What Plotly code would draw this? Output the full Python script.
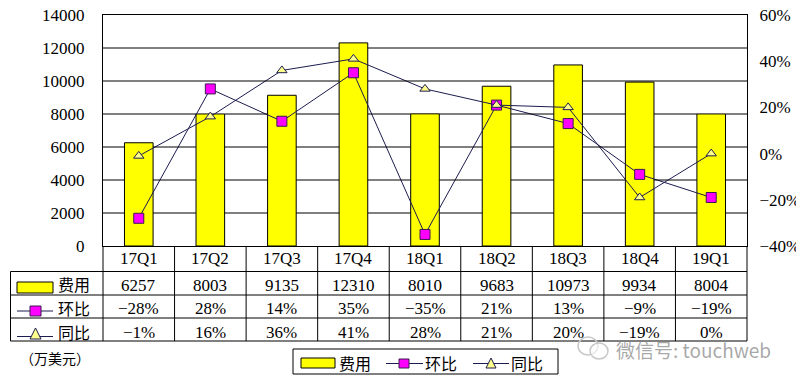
import plotly.graph_objects as go

# ---- data ----
categories = ["17Q1", "17Q2", "17Q3", "17Q4", "18Q1", "18Q2", "18Q3", "18Q4", "19Q1"]
expense = [6257, 8003, 9135, 12310, 8010, 9683, 10973, 9934, 8004]          # 费用 (万美元)
qoq_pct = [-28, 28, 14, 35, -35, 21, 13, -9, -19]                           # 环比 %
yoy_pct = [-1, 16, 36, 41, 28, 21, 20, -19, 0]                              # 同比 %
left_ticks = [0, 2000, 4000, 6000, 8000, 10000, 12000, 14000]
right_ticks = [-40, -20, 0, 20, 40, 60]
series_names = ["费用", "环比", "同比"]
unit_label = "（万美元）"
watermark = "微信号: touchweb"

# ---- layout geometry (page pixels; the page body has an 8px margin) ----
PW, PH = 804, 381
OFF = 8
L, R, T, B = 103, 747, 15, 246
BAR_W = 0.4


def xp(X):
    return (X - L) / (R - L)


def yp(Y):
    return (B - Y) / (B - T)


LINE_C = "#1c1c50"
YEL = "#FFFF00"
MAG = "#FF00FF"
TRI = "#FFFF8C"
NUM_FONT = "Liberation Serif"
CJK_FONT = "Noto Sans CJK SC"


def fmt_pct(v):
    return ("\u2212" + str(abs(v)) if v < 0 else str(v)) + "%"


fig = go.Figure()
fig.add_trace(go.Bar(x=categories, y=expense, width=BAR_W, name=series_names[0],
                     marker=dict(color=YEL, line=dict(color="black", width=1))))
fig.add_trace(go.Scatter(x=categories, y=qoq_pct, yaxis="y2", name=series_names[1],
                         mode="lines+markers", line=dict(color=LINE_C, width=1),
                         marker=dict(symbol="square", size=10, color=MAG,
                                     line=dict(color="#3a1a50", width=1))))
fig.add_trace(go.Scatter(x=categories, y=yoy_pct, yaxis="y2", name=series_names[2],
                         mode="lines+markers", line=dict(color=LINE_C, width=1),
                         marker=dict(symbol="triangle-up", size=9, color=TRI,
                                     line=dict(color=LINE_C, width=1))))

shapes = []
ann = []

# horizontal gridlines at left-axis ticks, interrupted where a bar stands in front
n = len(categories)
half = BAR_W / 2
for v in left_ticks[1:-1]:
    start = -0.5
    for i, h in enumerate(expense):
        if h > v:
            shapes.append(dict(type="line", xref="x", yref="y", x0=start, x1=i - half,
                               y0=v, y1=v, line=dict(color="black", width=1)))
            start = i + half
    shapes.append(dict(type="line", xref="x", yref="y", x0=start, x1=n - 0.5,
                       y0=v, y1=v, line=dict(color="black", width=1)))

# table grid
for Y in [271.5, 295, 318, 341]:
    shapes.append(dict(type="line", xref="paper", yref="paper", x0=xp(10.5), x1=1,
                       y0=yp(Y), y1=yp(Y), line=dict(color="black", width=1)))
shapes.append(dict(type="line", xref="paper", yref="paper", x0=xp(10.5), x1=xp(10.5),
                   y0=yp(271.5), y1=yp(341), line=dict(color="black", width=1)))
for k in range(n + 1):
    shapes.append(dict(type="line", xref="paper", yref="paper", x0=k / n, x1=k / n,
                       y0=0, y1=yp(341), line=dict(color="black", width=1)))

# table values
row_y = [yp(285), yp(308.5), yp(332)]
rows = [[str(v) for v in expense], [fmt_pct(v) for v in qoq_pct], [fmt_pct(v) for v in yoy_pct]]
for ri, row in enumerate(rows):
    for c, txt in zip(categories, row):
        ann.append(dict(x=c, xref="x", y=row_y[ri], yref="paper", text=txt, showarrow=False,
                        xanchor="center", yanchor="middle",
                        font=dict(family=NUM_FONT, size=17, color="black")))
# category labels row
for c in categories:
    ann.append(dict(x=c, xref="x", y=yp(258.5), yref="paper", text=c, showarrow=False,
                    xanchor="center", yanchor="middle",
                    font=dict(family=NUM_FONT, size=17, color="black")))


def rect(x0, y0, x1, y1, fill, lc="black"):
    shapes.append(dict(type="rect", xref="paper", yref="paper", x0=xp(x0), x1=xp(x1),
                       y0=yp(y0), y1=yp(y1), fillcolor=fill, line=dict(color=lc, width=1)))


def hline(x0, x1, y, c=LINE_C):
    shapes.append(dict(type="line", xref="paper", yref="paper", x0=xp(x0), x1=xp(x1),
                       y0=yp(y), y1=yp(y), line=dict(color=c, width=1)))


def tri(cx, top, bot, hw):
    path = "M {:.5f},{:.5f} L {:.5f},{:.5f} L {:.5f},{:.5f} Z".format(
        xp(cx), yp(top), xp(cx - hw), yp(bot), xp(cx + hw), yp(bot))
    shapes.append(dict(type="path", xref="paper", yref="paper", path=path,
                       fillcolor=TRI, line=dict(color=LINE_C, width=1)))


def label(x, y, text, size=16):
    ann.append(dict(x=xp(x), xref="paper", y=yp(y), yref="paper", text=text, showarrow=False,
                    xanchor="left", yanchor="middle",
                    font=dict(family=CJK_FONT, size=size, color="black")))


# row keys inside table
rect(17, 282, 53, 293, YEL)
label(56, 284, series_names[0], 16)
hline(17, 53, 311)
rect(30, 306, 41, 316, MAG, "#3a1a50")
label(56, 307.5, series_names[1], 16)
hline(17, 53, 336.5)
tri(35.5, 328, 339, 5.5)
label(56, 331.5, series_names[2], 16)

# unit label
label(18, 358, unit_label, 14)

# bottom legend
rect(293, 349, 558, 374, "white")
rect(301, 358, 335, 368, YEL)
label(337, 362.5, series_names[0], 16)
hline(386, 423, 363.5)
rect(399, 359, 409, 368, MAG, "#3a1a50")
label(423, 362.5, series_names[1], 16)
hline(473, 509, 363.5)
tri(491, 358, 368, 5)
label(509, 362.5, series_names[2], 16)

# watermark
shapes.append(dict(type="circle", xref="paper", yref="paper", x0=xp(578), x1=xp(598),
                   y0=yp(337), y1=yp(355), line=dict(color="#c8c8c8", width=1.5)))
shapes.append(dict(type="circle", xref="paper", yref="paper", x0=xp(590), x1=xp(608),
                   y0=yp(343), y1=yp(359), line=dict(color="#c8c8c8", width=1.5),
                   fillcolor="rgba(255,255,255,0.6)"))
ann.append(dict(x=xp(614), xref="paper", y=yp(349), yref="paper", text=watermark,
                showarrow=False, xanchor="left", yanchor="middle",
                font=dict(family=CJK_FONT, size=19, color="rgba(140,140,140,0.75)")))

fig.update_layout(
    width=PW - OFF, height=PH - OFF,
    margin=dict(l=L - OFF, r=PW - R, t=T - OFF, b=PH - B, autoexpand=False),
    paper_bgcolor="white", plot_bgcolor="white",
    showlegend=False,
    font=dict(family=NUM_FONT, size=17, color="black"),
    xaxis=dict(range=[-0.5, n - 0.5], showticklabels=False, ticks="", showline=True,
               linecolor="black", linewidth=1, mirror=True, showgrid=False,
               automargin=False),
    yaxis=dict(range=[0, 14000], tickvals=left_ticks, tickformat="d", showgrid=False,
               showline=True, linecolor="black", linewidth=1, mirror=True,
               ticks="outside", ticklen=14, tickcolor="rgba(0,0,0,0)", zeroline=False,
               automargin=False, ticklabeloverflow="allow",
               tickfont=dict(family=NUM_FONT, size=17)),
    yaxis2=dict(range=[-40, 60], tickvals=right_ticks,
                ticktext=[fmt_pct(v) for v in right_ticks], overlaying="y", side="right",
                showgrid=False, zeroline=False, showline=False,
                ticks="outside", ticklen=8, tickcolor="rgba(0,0,0,0)", automargin=False,
                ticklabeloverflow="allow", tickfont=dict(family=NUM_FONT, size=17)),
    shapes=shapes,
    annotations=ann,
)

fig.write_html("out.html")
